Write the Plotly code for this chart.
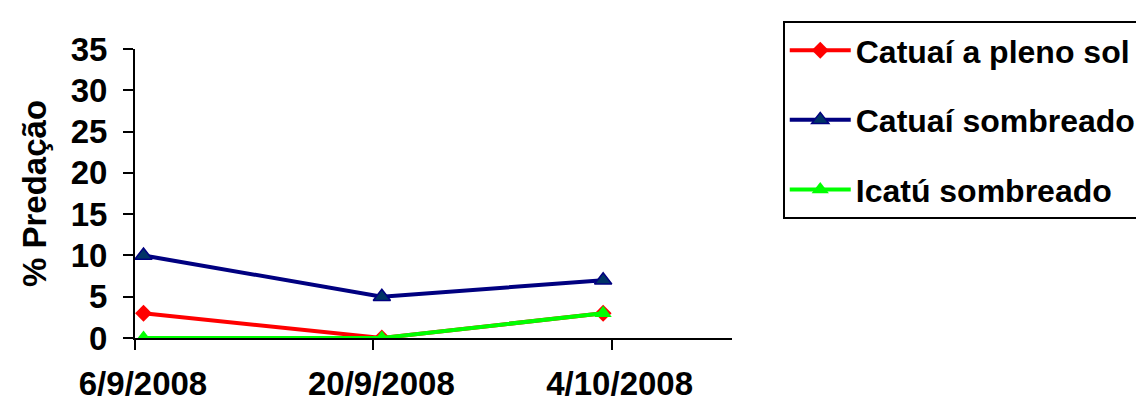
import plotly.graph_objects as go

# Sampling dates and predation percentages per treatment
dates = ["2008-09-06 12:00", "2008-09-20 12:00", "2008-10-03 12:00"]
tick_dates = ["2008-09-06", "2008-09-20", "2008-10-04"]
tick_labels = ["6/9/2008", "20/9/2008", "4/10/2008"]

catuai_sol = [3, 0, 3]
catuai_sombra = [10, 5, 7]
icatu_sombra = [0, 0, 3]

FONT = "Liberation Sans, Arial, sans-serif"

fig = go.Figure()

fig.add_trace(go.Scatter(
    x=dates, y=catuai_sol, name="Catuaí a pleno sol", mode="lines+markers",
    line=dict(color="#FF0000", width=4),
    marker=dict(symbol="diamond", size=13, color="#FF0000"),
    legendgroup="a",
))
fig.add_trace(go.Scatter(
    x=dates, y=catuai_sombra, name="Catuaí sombreado", mode="lines+markers",
    line=dict(color="#000080", width=4),
    marker=dict(symbol="triangle-up", size=15, color="#003366",
                line=dict(color="#000080", width=1.5)),
    legendgroup="b",
))
fig.add_trace(go.Scatter(
    x=dates, y=icatu_sombra, name="Icatú sombreado", mode="lines+markers",
    line=dict(color="#00FF00", width=4),
    marker=dict(symbol="triangle-up", size=15, color="#00FF00"),
    legendgroup="c",
))

fig.update_layout(
    width=1136, height=401,
    margin=dict(l=135, r=404, t=49, b=63, autoexpand=False),
    paper_bgcolor="white", plot_bgcolor="white",
    font=dict(family=FONT, size=33, color="black"),
    showlegend=True,
    legend=dict(
        x=1.085, y=1.097, xanchor="left", yanchor="top",
        bordercolor="black", borderwidth=2, bgcolor="white",
        font=dict(family=FONT, size=32, color="black", weight="bold"),
        tracegroupgap=25, itemwidth=61,
    ),
)

fig.update_xaxes(
    type="date",
    range=["2008-09-06", "2008-10-11 01:40"],
    tickvals=tick_dates, ticktext=tick_labels,
    showline=True, linecolor="black", linewidth=2,
    ticks="outside", ticklen=10, tickwidth=2, tickcolor="black",
    showgrid=False, zeroline=False, automargin=False,
    tickfont=dict(family=FONT, size=33, color="black", weight="bold"),
    ticklabelstandoff=5, ticklabelshift=8,
)

fig.update_yaxes(
    range=[0, 35], dtick=5, tick0=0,
    showline=True, linecolor="black", linewidth=2,
    ticks="outside", ticklen=10, tickwidth=2, tickcolor="black",
    showgrid=False, zeroline=False, automargin=False,
    tickfont=dict(family=FONT, size=33, color="black", weight="bold"),
    ticklabelstandoff=9,
    title=dict(text="% Predação", standoff=14,
               font=dict(family=FONT, size=33, color="black", weight="bold")),
)

fig.write_html("out.html")
